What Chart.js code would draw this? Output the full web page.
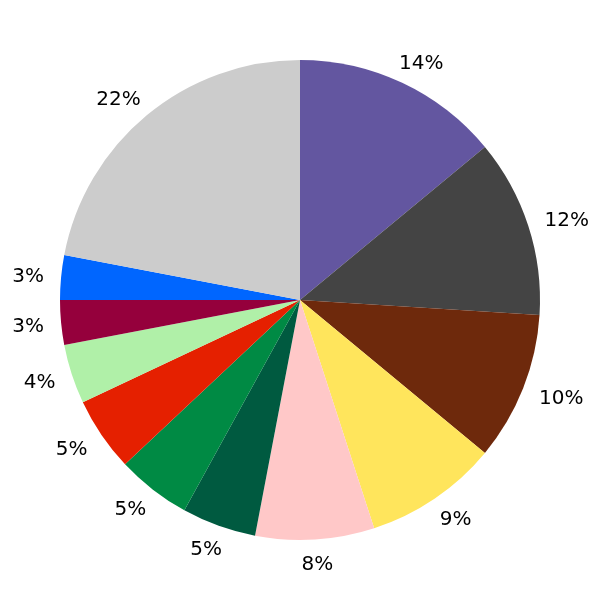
<!DOCTYPE html>
<html lang="en">
<head>
    <meta charset="utf-8">
    <title>Pie chart</title>
    <script src="https://cdn.jsdelivr.net/npm/chart.js"></script>
    <style>
        html, body { margin: 0; padding: 0; background: #ffffff; }
        #chartBox { width: 600px; height: 600px; }
    </style>
</head>
<body>

<div id="chartBox">
    <canvas id="pieChart" width="600" height="600"></canvas>
</div>

<script>
    // Slice data, clockwise from 12 o'clock
    const categories = ['A', 'B', 'C', 'D', 'E', 'F', 'G', 'H', 'I', 'J', 'K', 'L'];
    const shares = [14, 12, 10, 9, 8, 5, 5, 5, 4, 3, 3, 22];
    const sliceLabels = ['14%', '12%', '10%', '9%', '8%', '5%', '5%', '5%', '4%', '3%', '3%', '22%'];
    const sliceColors = [
        '#6356a0', '#444444', '#6e290c', '#ffe55c', '#ffc8c8', '#005a40',
        '#008a44', '#e52000', '#b0f0a8', '#95003c', '#0066ff', '#cccccc'
    ];

    // Draws the percentage text just outside each slice
    const outsideLabels = {
        id: 'outsideLabels',
        afterDraw(chart) {
            const ctx = chart.ctx;
            const arcs = chart.getDatasetMeta(0).data;
            ctx.save();
            ctx.font = '20px "DejaVu Sans"';
            ctx.fillStyle = '#000000';
            ctx.textAlign = 'center';
            ctx.textBaseline = 'middle';
            arcs.forEach((arc, i) => {
                const mid = (arc.startAngle + arc.endAngle) / 2;
                const dist = arc.outerRadius * 1.071;
                const c = Math.cos(mid), s = Math.sin(mid);
                const w = ctx.measureText(sliceLabels[i]).width;
                // push the text box outwards so it clears the rim
                const x = arc.x + c * dist + Math.sign(c) * (w / 2) * Math.min(1, 1.25 * Math.abs(c));
                const y = arc.y + s * (dist + 6) + 1;
                ctx.fillText(sliceLabels[i], x, y + 1);
            });
            ctx.restore();
        }
    };

    const ctx = document.getElementById('pieChart').getContext('2d');
    const chart = new Chart(ctx, {
        type: 'pie',
        data: {
            labels: categories,
            datasets: [{
                data: shares,
                backgroundColor: sliceColors,
                borderWidth: 0
            }]
        },
        options: {
            responsive: false,
            animation: false,
            layout: { padding: 60 },
            plugins: {
                legend: { display: false },
                tooltip: { enabled: false }
            }
        },
        plugins: [outsideLabels]
    });
</script>

</body>
</html>
